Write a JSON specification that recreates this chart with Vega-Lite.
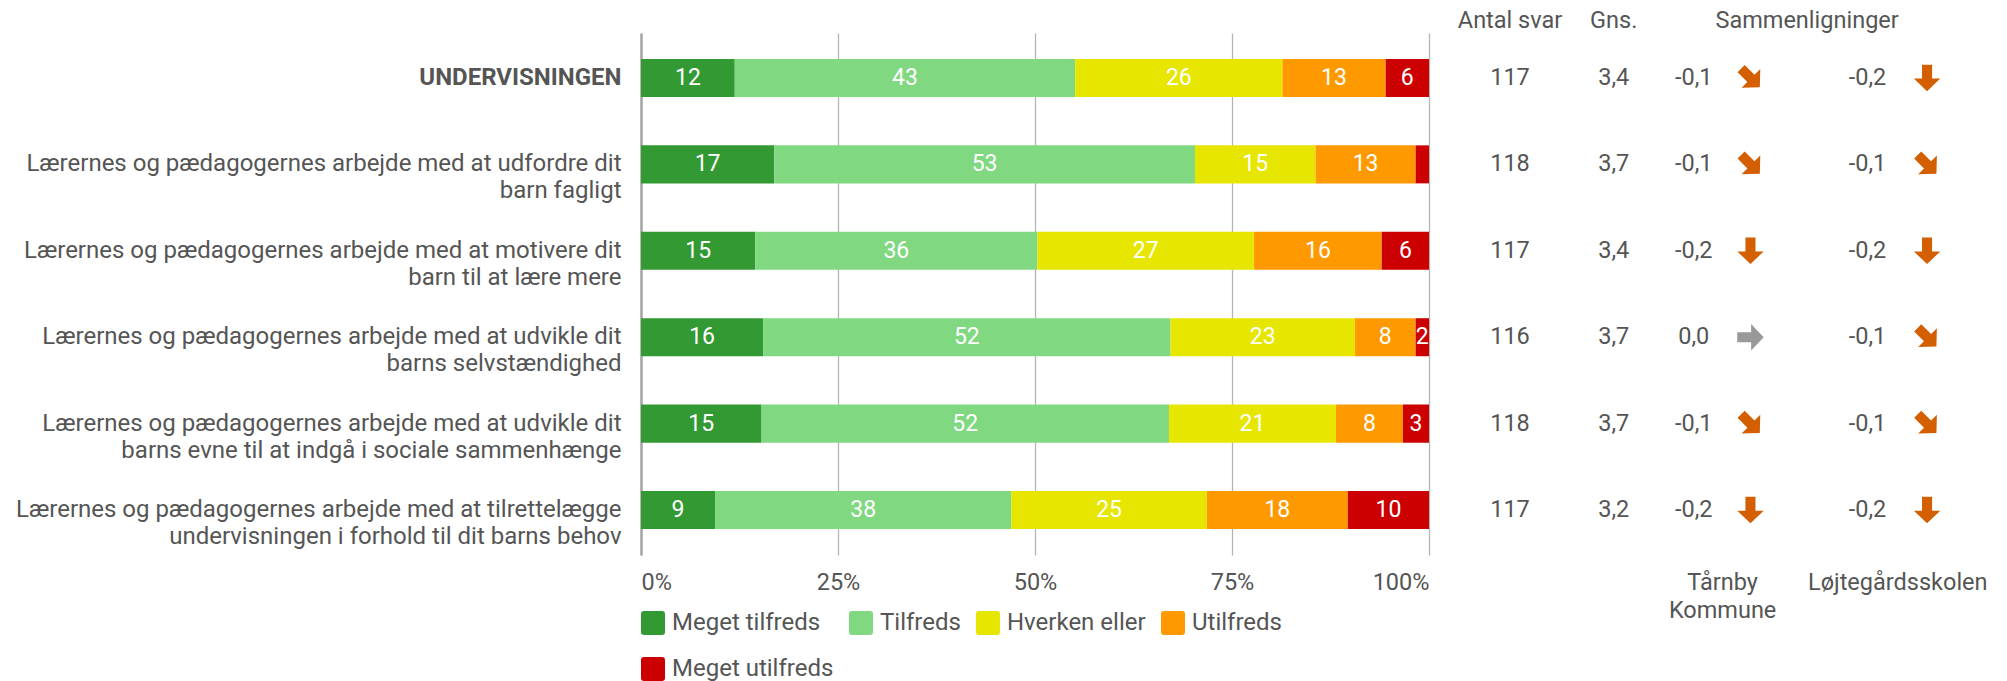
{
  "$schema": "https://vega.github.io/schema/vega-lite/v6.json",
  "padding": {"left": 15, "top": 8, "right": 0, "bottom": 0},
  "bounds": "flush",
  "spacing": 0,
  "background": "white",
  "datasets": {
    "bars": [
      {"item": "UNDERVISNINGEN", "cat": "Meget tilfreds", "score": 5, "pct": 11.9, "label": "12"},
      {"item": "UNDERVISNINGEN", "cat": "Tilfreds", "score": 4, "pct": 43.2, "label": "43"},
      {"item": "UNDERVISNINGEN", "cat": "Hverken eller", "score": 3, "pct": 26.3, "label": "26"},
      {"item": "UNDERVISNINGEN", "cat": "Utilfreds", "score": 2, "pct": 13.1, "label": "13"},
      {"item": "UNDERVISNINGEN", "cat": "Meget utilfreds", "score": 1, "pct": 5.5, "label": "6"},
      {"item": "Lærernes og pædagogernes arbejde med at udfordre dit\nbarn fagligt", "cat": "Meget tilfreds", "score": 5, "pct": 16.9, "label": "17"},
      {"item": "Lærernes og pædagogernes arbejde med at udfordre dit\nbarn fagligt", "cat": "Tilfreds", "score": 4, "pct": 53.4, "label": "53"},
      {"item": "Lærernes og pædagogernes arbejde med at udfordre dit\nbarn fagligt", "cat": "Hverken eller", "score": 3, "pct": 15.3, "label": "15"},
      {"item": "Lærernes og pædagogernes arbejde med at udfordre dit\nbarn fagligt", "cat": "Utilfreds", "score": 2, "pct": 12.7, "label": "13"},
      {"item": "Lærernes og pædagogernes arbejde med at udfordre dit\nbarn fagligt", "cat": "Meget utilfreds", "score": 1, "pct": 1.7, "label": ""},
      {"item": "Lærernes og pædagogernes arbejde med at motivere dit\nbarn til at lære mere", "cat": "Meget tilfreds", "score": 5, "pct": 14.5, "label": "15"},
      {"item": "Lærernes og pædagogernes arbejde med at motivere dit\nbarn til at lære mere", "cat": "Tilfreds", "score": 4, "pct": 35.8, "label": "36"},
      {"item": "Lærernes og pædagogernes arbejde med at motivere dit\nbarn til at lære mere", "cat": "Hverken eller", "score": 3, "pct": 27.5, "label": "27"},
      {"item": "Lærernes og pædagogernes arbejde med at motivere dit\nbarn til at lære mere", "cat": "Utilfreds", "score": 2, "pct": 16.2, "label": "16"},
      {"item": "Lærernes og pædagogernes arbejde med at motivere dit\nbarn til at lære mere", "cat": "Meget utilfreds", "score": 1, "pct": 6.0, "label": "6"},
      {"item": "Lærernes og pædagogernes arbejde med at udvikle dit\nbarns selvstændighed", "cat": "Meget tilfreds", "score": 5, "pct": 15.5, "label": "16"},
      {"item": "Lærernes og pædagogernes arbejde med at udvikle dit\nbarns selvstændighed", "cat": "Tilfreds", "score": 4, "pct": 51.7, "label": "52"},
      {"item": "Lærernes og pædagogernes arbejde med at udvikle dit\nbarns selvstændighed", "cat": "Hverken eller", "score": 3, "pct": 23.4, "label": "23"},
      {"item": "Lærernes og pædagogernes arbejde med at udvikle dit\nbarns selvstændighed", "cat": "Utilfreds", "score": 2, "pct": 7.7, "label": "8"},
      {"item": "Lærernes og pædagogernes arbejde med at udvikle dit\nbarns selvstændighed", "cat": "Meget utilfreds", "score": 1, "pct": 1.7, "label": "2"},
      {"item": "Lærernes og pædagogernes arbejde med at udvikle dit\nbarns evne til at indgå i sociale sammenhænge", "cat": "Meget tilfreds", "score": 5, "pct": 15.3, "label": "15"},
      {"item": "Lærernes og pædagogernes arbejde med at udvikle dit\nbarns evne til at indgå i sociale sammenhænge", "cat": "Tilfreds", "score": 4, "pct": 51.7, "label": "52"},
      {"item": "Lærernes og pædagogernes arbejde med at udvikle dit\nbarns evne til at indgå i sociale sammenhænge", "cat": "Hverken eller", "score": 3, "pct": 21.2, "label": "21"},
      {"item": "Lærernes og pædagogernes arbejde med at udvikle dit\nbarns evne til at indgå i sociale sammenhænge", "cat": "Utilfreds", "score": 2, "pct": 8.5, "label": "8"},
      {"item": "Lærernes og pædagogernes arbejde med at udvikle dit\nbarns evne til at indgå i sociale sammenhænge", "cat": "Meget utilfreds", "score": 1, "pct": 3.3, "label": "3"},
      {"item": "Lærernes og pædagogernes arbejde med at tilrettelægge\nundervisningen i forhold til dit barns behov", "cat": "Meget tilfreds", "score": 5, "pct": 9.4, "label": "9"},
      {"item": "Lærernes og pædagogernes arbejde med at tilrettelægge\nundervisningen i forhold til dit barns behov", "cat": "Tilfreds", "score": 4, "pct": 37.6, "label": "38"},
      {"item": "Lærernes og pædagogernes arbejde med at tilrettelægge\nundervisningen i forhold til dit barns behov", "cat": "Hverken eller", "score": 3, "pct": 24.8, "label": "25"},
      {"item": "Lærernes og pædagogernes arbejde med at tilrettelægge\nundervisningen i forhold til dit barns behov", "cat": "Utilfreds", "score": 2, "pct": 17.9, "label": "18"},
      {"item": "Lærernes og pædagogernes arbejde med at tilrettelægge\nundervisningen i forhold til dit barns behov", "cat": "Meget utilfreds", "score": 1, "pct": 10.3, "label": "10"}
    ],
    "table": [
      {"item": "UNDERVISNINGEN", "antal": 117, "gns": 3.4, "tarnby": -0.1, "lojte": -0.2},
      {"item": "Lærernes og pædagogernes arbejde med at udfordre dit\nbarn fagligt", "antal": 118, "gns": 3.7, "tarnby": -0.1, "lojte": -0.1},
      {"item": "Lærernes og pædagogernes arbejde med at motivere dit\nbarn til at lære mere", "antal": 117, "gns": 3.4, "tarnby": -0.2, "lojte": -0.2},
      {"item": "Lærernes og pædagogernes arbejde med at udvikle dit\nbarns selvstændighed", "antal": 116, "gns": 3.7, "tarnby": 0.0, "lojte": -0.1},
      {"item": "Lærernes og pædagogernes arbejde med at udvikle dit\nbarns evne til at indgå i sociale sammenhænge", "antal": 118, "gns": 3.7, "tarnby": -0.1, "lojte": -0.1},
      {"item": "Lærernes og pædagogernes arbejde med at tilrettelægge\nundervisningen i forhold til dit barns behov", "antal": 117, "gns": 3.2, "tarnby": -0.2, "lojte": -0.2}
    ]
  },
  "hconcat": [
    {
      "width": 788,
      "height": 522,
      "data": {"name": "bars"},
      "encoding": {
        "y": {
          "field": "item", "type": "nominal", "sort": null,
          "scale": {"type": "band", "paddingInner": 0.56, "paddingOuter": 0.3},
          "axis": {
            "title": null, "ticks": false, "labelPadding": 20, "labelFontSize": 24,
            "labelColor": "#555555", "labelLimit": 900, "labelLineHeight": 27,
            "labelExpr": "split(datum.label, '\\n')",
            "labelFontWeight": {"condition": {"test": "datum.value == 'UNDERVISNINGEN'", "value": "bold"}, "value": "normal"},
            "domainColor": "#a6a6a6", "domainWidth": 2.5
          }
        },
        "order": {"field": "score", "type": "quantitative", "sort": "descending"}
      },
      "layer": [
        {
          "mark": {"type": "bar"},
          "encoding": {
            "x": {
              "field": "pct", "type": "quantitative", "stack": "normalize",
              "axis": {
                "title": null, "values": [0, 0.25, 0.5, 0.75, 1], "format": "%",
                "grid": true, "gridColor": "#b4b4b4", "gridWidth": 1.3,
                "domain": false, "ticks": false, "labelFontSize": 23.5,
                "labelColor": "#555555", "labelPadding": 15
              }
            },
            "color": {
              "field": "cat", "type": "nominal",
              "scale": {
                "domain": ["Meget tilfreds", "Tilfreds", "Hverken eller", "Utilfreds", "Meget utilfreds"],
                "range": ["#339933", "#80d880", "#e6e600", "#ff9900", "#cc0000"]
              },
              "legend": {
                "orient": "bottom", "direction": "horizontal", "columns": 4, "title": null,
                "symbolType": "M-0.75,-1H0.75Q1,-1 1,-0.75V0.75Q1,1 0.75,1H-0.75Q-1,1 -1,0.75V-0.75Q-1,-1 -0.75,-1Z",
                "symbolSize": 576, "symbolStrokeWidth": 0, "symbolOpacity": 1,
                "labelFontSize": 24, "labelColor": "#555555", "labelOffset": 7,
                "columnPadding": 15, "rowPadding": 22, "labelLimit": 400, "offset": 17
              }
            }
          }
        },
        {
          "mark": {"type": "text", "fill": "white", "fontSize": 23},
          "encoding": {
            "x": {"field": "pct", "type": "quantitative", "stack": "normalize", "bandPosition": 0.5},
            "detail": {"field": "cat", "type": "nominal"},
            "text": {"field": "label", "type": "nominal"}
          }
        }
      ]
    },
    {
      "width": 162,
      "height": 522,
      "data": {"name": "table"},
      "title": {"text": "Antal svar"},
      "mark": {"type": "text", "fontSize": 23.5, "color": "#555555"},
      "encoding": {
        "y": {"field": "item", "type": "nominal", "sort": null, "scale": {"type": "band", "paddingInner": 0.56, "paddingOuter": 0.3}, "axis": null},
        "text": {"field": "antal", "type": "quantitative"}
      }
    },
    {
      "width": 45.4,
      "height": 522,
      "data": {"name": "table"},
      "title": {"text": "Gns."},
      "mark": {"type": "text", "fontSize": 23.5, "color": "#555555"},
      "encoding": {
        "y": {"field": "item", "type": "nominal", "sort": null, "scale": {"type": "band", "paddingInner": 0.56, "paddingOuter": 0.3}, "axis": null},
        "text": {"field": "gns", "type": "quantitative", "format": ".1f"}
      }
    },
    {
      "width": 170.2,
      "height": 522,
      "data": {"name": "table"},
      "title": {"text": "Sammenligninger", "dx": 85},
      "encoding": {
        "y": {"field": "item", "type": "nominal", "sort": null, "scale": {"type": "band", "paddingInner": 0.56, "paddingOuter": 0.3}, "axis": null}
      },
      "layer": [
        {
          "mark": {"type": "text", "fontSize": 23.5, "color": "#555555"},
          "encoding": {
            "x": {
              "datum": "v", "type": "nominal",
              "scale": {"type": "point", "domain": ["v", "a"], "padding": 1.076},
              "axis": {"title": ["Tårnby", "Kommune"], "labels": false, "ticks": false, "domain": false, "grid": false, "titlePadding": 15}
            },
            "text": {"field": "tarnby", "type": "quantitative", "format": ".1f"}
          }
        },
        {
          "mark": {"type": "point", "shape": "M-1,-0.38L0.05,-0.38L0.05,-1L1,0L0.05,1L0.05,0.38L-1,0.38Z", "size": 700, "filled": true, "opacity": 1, "strokeWidth": 0},
          "encoding": {
            "x": {"datum": "a", "type": "nominal"},
            "angle": {"field": "tarnby", "type": "quantitative", "scale": {"domain": [-0.2, 0], "range": [90, 0], "clamp": true}, "legend": null},
            "fill": {"condition": {"test": "datum.tarnby < 0", "value": "#d45f00"}, "value": "#999999"}
          }
        }
      ]
    },
    {
      "width": 178.6,
      "height": 522,
      "data": {"name": "table"},
      "encoding": {
        "y": {"field": "item", "type": "nominal", "sort": null, "scale": {"type": "band", "paddingInner": 0.56, "paddingOuter": 0.3}, "axis": null}
      },
      "layer": [
        {
          "mark": {"type": "text", "fontSize": 23.5, "color": "#555555"},
          "encoding": {
            "x": {
              "datum": "v", "type": "nominal",
              "scale": {"type": "point", "domain": ["v", "a"], "padding": 1.154},
              "axis": {"title": "Løjtegårdsskolen", "labels": false, "ticks": false, "domain": false, "grid": false, "titlePadding": 15}
            },
            "text": {"field": "lojte", "type": "quantitative", "format": ".1f"}
          }
        },
        {
          "mark": {"type": "point", "shape": "M-1,-0.38L0.05,-0.38L0.05,-1L1,0L0.05,1L0.05,0.38L-1,0.38Z", "size": 700, "filled": true, "opacity": 1, "strokeWidth": 0},
          "encoding": {
            "x": {"datum": "a", "type": "nominal"},
            "angle": {"field": "lojte", "type": "quantitative", "scale": {"domain": [-0.2, 0], "range": [90, 0], "clamp": true}, "legend": null},
            "fill": {"condition": {"test": "datum.lojte < 0", "value": "#d45f00"}, "value": "#999999"}
          }
        }
      ]
    }
  ],
  "resolve": {
    "scale": {"y": "independent", "x": "independent", "color": "independent", "angle": "independent"},
    "legend": {"color": "independent"}
  },
  "config": {
    "font": "Roboto",
    "view": {"stroke": null},
    "locale": {"number": {"decimal": ",", "thousands": ".", "grouping": [3], "currency": ["", " kr."], "minus": "-"}},
    "title": {"fontSize": 23.5, "fontWeight": "normal", "color": "#555555", "offset": 0, "dy": 3, "anchor": "middle"},
    "axis": {"titleFontSize": 23.5, "titleFontWeight": "normal", "titleColor": "#555555", "titleLineHeight": 28}
  }
}
